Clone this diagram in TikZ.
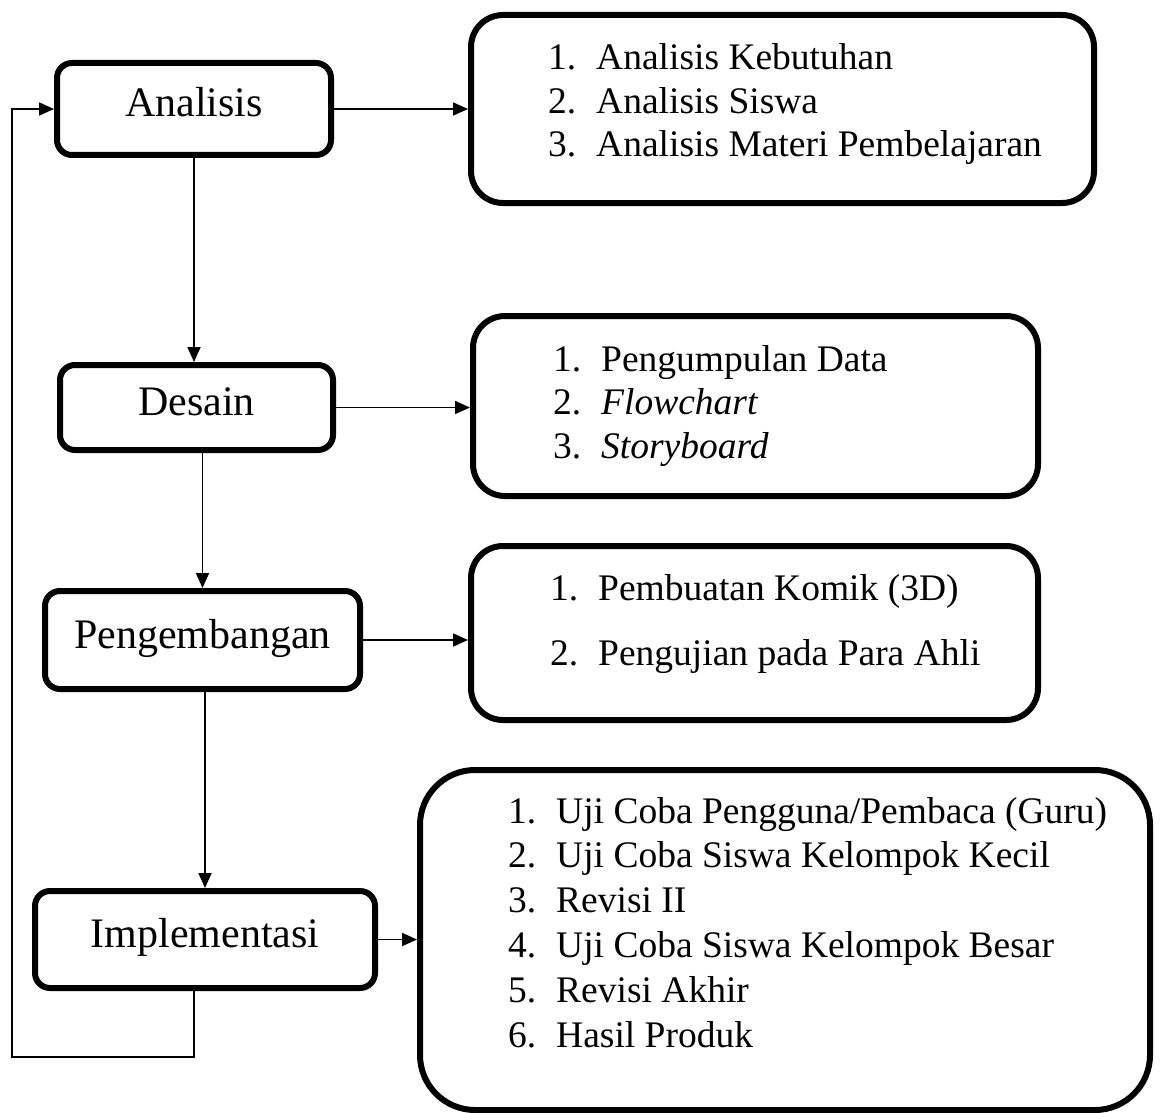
\documentclass[tikz,border=0pt]{standalone}
\usepackage{fontspec}
\setmainfont{Liberation Serif}
\usetikzlibrary{arrows.meta}
\newcommand{\butir}[2]{\makebox[48pt][l]{#1}#2}

\begin{document}
\begin{tikzpicture}[x=1pt,y=-1pt]
		\tikzset{tahap/.style={draw,line width=6pt,rounded corners=15pt,inner sep=0pt,text height=28pt,text depth=12pt,font=\fontsize{42}{48}\selectfont},
			kotak/.style={draw,line width=6pt,rounded corners=32pt,inner sep=0pt},
			daftar/.style={anchor=base west,inner sep=0pt,font=\fontsize{37.5}{43.5}\selectfont},
			panah/.style={line width=1.8pt,-{Triangle[length=15pt,width=13pt]}}};
		\useasboundingbox (0,0) rectangle (1162,1113);
		
		% tahap ADDIE
		\node[tahap,minimum width=274pt,minimum height=92pt] (analisis) at (194,109) {Analisis};
		\node[tahap,minimum width=273pt,minimum height=85pt] (desain) at (196.5,407.5) {Desain};
		\node[tahap,minimum width=315pt,minimum height=98pt] (pengembangan) at (202.5,640) {Pengembangan};
		\node[tahap,minimum width=340pt,minimum height=97pt] (implementasi) at (205,939.5) {Implementasi};
		
		% kotak rincian
		\node[kotak,minimum width=623pt,minimum height=188pt] (kotakA) at (782.5,109) {};
		\node[kotak,minimum width=565pt,minimum height=180pt] (kotakB) at (755.5,406) {};
		\node[kotak,minimum width=567pt,minimum height=174pt] (kotakC) at (754.5,633) {};
		\node[kotak,rounded corners=55pt,minimum width=730pt,minimum height=340pt] (kotakD) at (785,940) {};
		
		\node[daftar] (isiA) at (548,70) {\begin{tabular}[t]{@{}l@{}}
				\butir{1.}{Analisis Kebutuhan}\\
				\butir{2.}{Analisis Siswa}\\
				\butir{3.}{Analisis Materi Pembelajaran}
			\end{tabular}};
		\node[daftar] (isiB) at (553,371) {\begin{tabular}[t]{@{}l@{}}
				\butir{1.}{Pengumpulan Data}\\
				\butir{2.}{\textit{Flowchart}}\\
				\butir{3.}{\textit{Storyboard}}
			\end{tabular}};
		\node[daftar] (isiC) at (550,600) {\begin{tabular}[t]{@{}l@{}}
				\butir{1.}{Pembuatan Komik (3D)}\\[21.5pt]
				\butir{2.}{Pengujian pada Para Ahli}
			\end{tabular}};
		\node[daftar,font=\fontsize{37.5}{44.8}\selectfont] (isiD) at (508,823) {\begin{tabular}[t]{@{}l@{}}
				\butir{1.}{Uji Coba Pengguna/Pembaca (Guru)}\\
				\butir{2.}{Uji Coba Siswa Kelompok Kecil}\\
				\butir{3.}{Revisi II}\\
				\butir{4.}{Uji Coba Siswa Kelompok Besar}\\
				\butir{5.}{Revisi Akhir}\\
				\butir{6.}{Hasil Produk}
			\end{tabular}};
		
		% panah ke kanan
		\draw[panah] (analisis.east) -- (analisis.east -| kotakA.west);
		\draw[panah] (desain.east) -- (desain.east -| kotakB.west);
		\draw[panah] (pengembangan.east) -- (pengembangan.east -| kotakC.west);
		\draw[panah] (implementasi.east) -- (implementasi.east -| kotakD.west);
		
		% panah ke bawah
		\draw[panah] (analisis.south) -- (analisis.south |- desain.north);
		\draw[panah] (pengembangan.north |- desain.south) -- (pengembangan.north);
		\draw[panah] (implementasi.north |- pengembangan.south) -- (implementasi.north);
		
		% umpan balik
		\coordinate (balik) at (12,1057);
		\draw[panah] (implementasi.south -| analisis.south) |- (balik) |- (analisis.west);
	\end{tikzpicture}
\end{document}
